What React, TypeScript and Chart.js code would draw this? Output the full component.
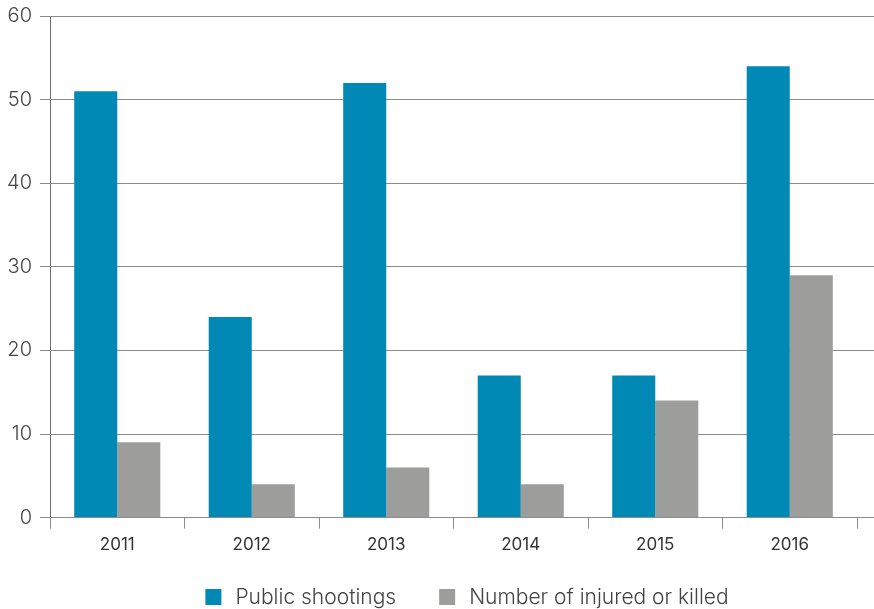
import React, { useEffect, useRef } from "react";
import { Chart, registerables } from "chart.js";

Chart.register(...registerables);

const years = ["2011", "2012", "2013", "2014", "2015", "2016"];
const publicShootings = [51, 24, 52, 17, 17, 54];
const injuredOrKilled = [9, 4, 6, 4, 14, 29];
const seriesNames = ["Public shootings", "Number of injured or killed"];
const yTicks = [0, 10, 20, 30, 40, 50, 60];

const BLUE = "#0089B4";
const GRAY = "#9D9D9C";
const GRID = "#8C8C8C";
const FONT = "Inter, 'Open Sans', sans-serif";

const gridLines = {
  id: "gridLines",
  beforeDatasetsDraw(chart: any) {
    const { ctx, chartArea, scales } = chart;
    const y = scales.y;
    ctx.save();
    ctx.strokeStyle = GRID;
    ctx.lineWidth = 1;
    y.ticks.forEach((t: any) => {
      const py = Math.round(y.getPixelForValue(t.value) - 0.5) + 0.5;
      ctx.beginPath();
      ctx.moveTo(chartArea.left - 10, py);
      ctx.lineTo(chart.width, py);
      ctx.stroke();
    });
    ctx.restore();
  },
};

const bottomLegend = {
  id: "bottomLegend",
  afterDraw(chart: any) {
    const { ctx } = chart;
    const box = 16;
    const gapText = 14;
    const gapItem = 43;
    ctx.save();
    ctx.font = `300 21px ${FONT}`;
    ctx.textBaseline = "middle";
    const items = chart.data.datasets.map((d: any) => ({
      text: d.label as string,
      color: d.backgroundColor as string,
      w: ctx.measureText(d.label).width,
    }));
    const total =
      items.reduce((s: number, it: any) => s + box + gapText + it.w, 0) +
      gapItem * (items.length - 1);
    const center = 467;
    const cy = 597;
    let x = center - total / 2;
    items.forEach((it: any) => {
      ctx.fillStyle = it.color;
      ctx.fillRect(x, cy - box / 2, box, box);
      x += box + gapText;
      ctx.fillStyle = "#444444";
      ctx.fillText(it.text, x, cy + 1);
      x += it.w + gapItem;
    });
    ctx.restore();
  },
};

export default function App() {
  const ref = useRef<HTMLCanvasElement | null>(null);
  useEffect(() => {
    document.body.style.margin = "0";
    const chart = new Chart(ref.current as HTMLCanvasElement, {
      type: "bar",
      data: {
        labels: years,
        datasets: [
          {
            label: seriesNames[0],
            data: publicShootings,
            backgroundColor: BLUE,
            categoryPercentage: 0.64,
            barPercentage: 1.0,
          },
          {
            label: seriesNames[1],
            data: injuredOrKilled,
            backgroundColor: GRAY,
            categoryPercentage: 0.64,
            barPercentage: 1.0,
          },
        ],
      },
      options: {
        animation: false,
        responsive: false,
        maintainAspectRatio: false,
        layout: { padding: { top: 16, right: 17, bottom: 48, left: 0 } },
        plugins: {
          tooltip: { enabled: false },
          legend: { display: false },
        },
        scales: {
          x: {
            grid: {
              offset: true,
              drawOnChartArea: false,
              tickLength: 11,
              color: GRID,
            },
            border: { display: false },
            ticks: {
              color: "#333333",
              padding: 6,
              font: { family: FONT, size: 17 },
            },
          },
          y: {
            min: 0,
            max: 60,
            afterBuildTicks: (s: any) => {
              s.ticks = yTicks.map((v) => ({ value: v }));
            },
            afterFit: (s: any) => {
              s.width = 50;
              s.paddingTop = 0;
              s.paddingBottom = 0;
            },
            grid: { drawOnChartArea: false, tickLength: 10, color: GRID },
            border: { display: true, color: "#6E6E6E" },
            ticks: {
              color: "#444444",
              padding: 8,
              font: { family: FONT, size: 20, weight: "300" as any },
            },
          },
        },
      },
      plugins: [gridLines, bottomLegend],
    });
    return () => chart.destroy();
  }, []);
  return (
    <div style={{ position: "absolute", left: 0, top: 0, width: 874, height: 609 }}>
      <canvas ref={ref} width={874} height={609} style={{ width: 874, height: 609 }} />
    </div>
  );
}
